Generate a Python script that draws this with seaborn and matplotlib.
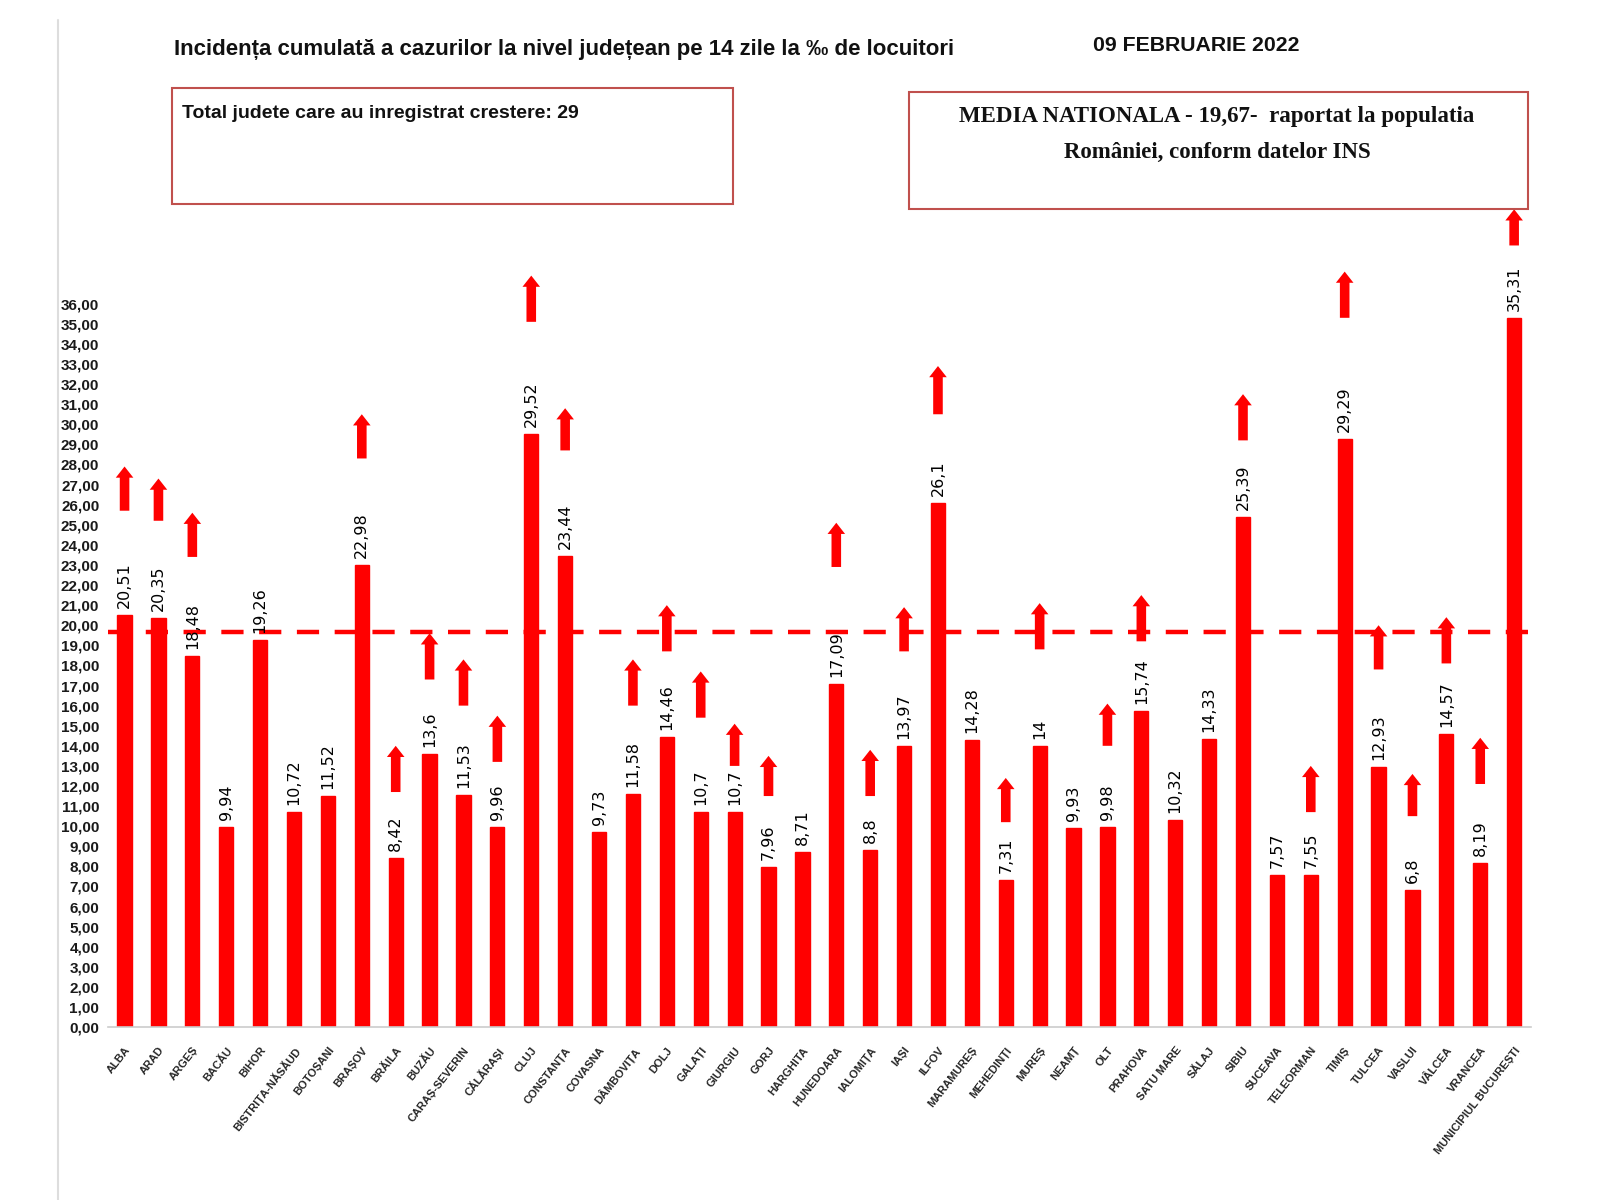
import numpy as np
import pandas as pd
import matplotlib
matplotlib.use("Agg")
import matplotlib.pyplot as plt
from matplotlib.patches import Rectangle, ArrowStyle
from matplotlib.lines import Line2D
import seaborn as sns

counties = ["ALBA", "ARAD", "ARGEȘ", "BACĂU", "BIHOR", "BISTRIȚA-NĂSĂUD", "BOTOȘANI",
            "BRAȘOV", "BRĂILA", "BUZĂU", "CARAȘ-SEVERIN", "CĂLĂRAȘI", "CLUJ", "CONSTANȚA",
            "COVASNA", "DÂMBOVIȚA", "DOLJ", "GALAȚI", "GIURGIU", "GORJ", "HARGHITA",
            "HUNEDOARA", "IALOMIȚA", "IAȘI", "ILFOV", "MARAMUREȘ", "MEHEDINȚI", "MUREȘ",
            "NEAMȚ", "OLT", "PRAHOVA", "SATU MARE", "SĂLAJ", "SIBIU", "SUCEAVA",
            "TELEORMAN", "TIMIȘ", "TULCEA", "VASLUI", "VÂLCEA", "VRANCEA",
            "MUNICIPIUL BUCUREȘTI"]
incidence = [20.51, 20.35, 18.48, 9.94, 19.26, 10.72, 11.52, 22.98, 8.42, 13.6, 11.53,
             9.96, 29.52, 23.44, 9.73, 11.58, 14.46, 10.7, 10.7, 7.96, 8.71, 17.09, 8.8,
             13.97, 26.1, 14.28, 7.31, 14, 9.93, 9.98, 15.74, 10.32, 14.33, 25.39, 7.57,
             7.55, 29.29, 12.93, 6.8, 14.57, 8.19, 35.31]
# increase arrows as drawn: (bottom, tip) in the value scale, None = no arrow
arrow_bottom = [25.7, 25.2, 23.4, None, None, None, None, 28.3, 11.7, 17.3, 16.0,
                13.2, 35.1, 28.7, None, 16.0, 18.7, 15.4, 13.0, 11.5, None, 22.9, 11.5,
                18.7, 30.5, None, 10.2, 18.8, None, 14.0, 19.2, None, None, 29.2, None,
                10.7, 35.3, 17.8, 10.5, 18.1, 12.1, 38.9]
arrow_tip = [27.9, 27.3, 25.6, None, None, None, None, 30.5, 14.0, 19.6, 18.3,
             15.5, 37.4, 30.8, None, 18.3, 21.0, 17.7, 15.1, 13.5, None, 25.1, 13.8,
             20.9, 32.9, None, 12.4, 21.1, None, 16.1, 21.5, None, None, 31.5, None,
             13.0, 37.6, 20.0, 12.6, 20.4, 14.4, 40.7]
national_mean = 19.67
y_ticks = list(range(0, 37))

title = "Incidența cumulată a cazurilor la nivel județean pe 14 zile la ‰ de locuitori"
date_text = "09 FEBRUARIE 2022"
box_left_text = "Total judete care au inregistrat crestere: 29"
box_right_text = "MEDIA NATIONALA - 19,67-  raportat la populatia\nRomâniei, conform datelor INS"

RED = "#ff0000"
BOX_EDGE = "#c0504d"
W, H = 1600.0, 1200.0
S = 1.021  # reference pixel scale


def fx(x):
    return x * S / W


def fy(y):
    return 1 - y * S / H


sns.set_theme(style="white")
plt.rcParams["font.family"] = ["Liberation Sans Narrow", "Liberation Sans", "DejaVu Sans"]

df = pd.DataFrame({"county": counties, "value": incidence})

fig = plt.figure(figsize=(16, 12), dpi=100)
left, right, bottom, top = fx(105.4), fx(1499.6), fy(1006), fy(205)
ax = fig.add_axes([left, bottom, right - left, top - bottom])

sns.barplot(data=df, x="county", y="value", color=RED, width=0.42, ax=ax,
            saturation=1, edgecolor=RED)

ax.set_xlim(-0.5, len(counties) - 0.5)
ax.set_ylim(0, 40.7)
ax.set_yticks(y_ticks)
ax.set_yticklabels([f"{t:.2f}".replace(".", ",") for t in y_ticks],
                   fontsize=11, fontweight="bold", color="#1a1a1a")
ax.tick_params(axis="y", length=0, pad=6)
ax.set_xlabel("")
ax.set_ylabel("")
for s in ["top", "right", "left"]:
    ax.spines[s].set_visible(False)
ax.spines["bottom"].set_color("#cccccc")
ax.spines["bottom"].set_linewidth(1.2)

ax.set_xticks(range(len(counties)))
ax.set_xticklabels(counties, rotation=52, ha="right", rotation_mode="anchor",
                   fontsize=8, fontweight="bold", color="#262626")
ax.tick_params(axis="x", length=0, pad=13)

# value labels
for i, v in enumerate(incidence):
    lab = (f"{v:g}").replace(".", ",")
    ax.text(i, v + 0.35, lab, rotation=90, ha="center", va="bottom",
            fontsize=11.5, color="black", family="DejaVu Sans")

# national mean
ax.axhline(national_mean, color=RED, lw=3.2, ls=(0, (5, 3.5)), zorder=1)

# increase arrows
astyle = ArrowStyle.Simple(head_length=0.7, head_width=1.1, tail_width=0.6)
for i, (b, t) in enumerate(zip(arrow_bottom, arrow_tip)):
    if b is None:
        continue
    ax.annotate("", xy=(i, t), xytext=(i, b),
                arrowprops=dict(arrowstyle=astyle, color=RED, mutation_scale=11.5,
                                shrinkA=0, shrinkB=0, lw=0),
                annotation_clip=False, zorder=4)

# titles
fig.text(fx(170), fy(48), title, fontsize=16, fontweight="bold",
         ha="left", va="center", color="#111111")
fig.text(fx(1172), fy(45), date_text, fontsize=15.3, fontweight="bold",
         ha="center", va="center", color="#111111")

# boxes
fig.add_artist(Rectangle((fx(168), fy(200)), 550 * S / W, 114 * S / H,
                         transform=fig.transFigure, fill=False, ec=BOX_EDGE, lw=1.5))
fig.text(fx(178), fy(111), box_left_text, fontsize=14, fontweight="bold",
         ha="left", va="center", color="#111111")
fig.add_artist(Rectangle((fx(890), fy(205)), 607 * S / W, 115 * S / H,
                         transform=fig.transFigure, fill=False, ec=BOX_EDGE, lw=1.5))
fig.text(fx(1192), fy(132), box_right_text, fontsize=16.5, fontweight="bold",
         ha="center", va="center", color="#111111", family="Liberation Serif",
         linespacing=1.95)

# faint left border line
fig.add_artist(Line2D([fx(57), fx(57)], [fy(1175), fy(20)],
                      transform=fig.transFigure, color="#dddddd", lw=1.5))

fig.savefig("out.png", dpi=100, facecolor="white")
